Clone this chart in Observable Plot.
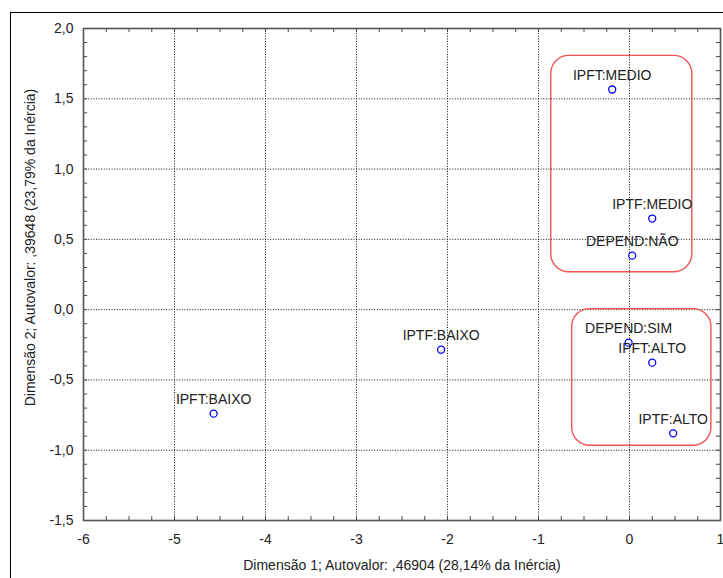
<!DOCTYPE html>
<html>
<head>
<meta charset="utf-8">
<script src="https://cdn.jsdelivr.net/npm/d3@7"></script>
<script src="https://cdn.jsdelivr.net/npm/@observablehq/plot@0.6"></script>
<style>
  html, body { margin: 0; padding: 0; background: #fff; }
  #wrap { position: relative; width: 723px; height: 578px; overflow: hidden; }
  #outer { position: absolute; left: 10px; top: 12px; width: 800px; height: 700px;
           border-left: 1.5px solid #000; border-top: 1.5px solid #000; pointer-events: none; }
  #chart { position: absolute; left: 0; top: 0; }
</style>
</head>
<body>
<div id="wrap"><div id="chart"></div><div id="outer"></div></div>
<script>
// Category labels and coordinates (Dimensão 1, Dimensão 2)
const labels = ["IPFT:MEDIO", "IPTF:MEDIO", "DEPEND:NÃO", "DEPEND:SIM", "IPFT:ALTO", "IPTF:ALTO", "IPTF:BAIXO", "IPFT:BAIXO"];
const dim1 = [-0.19, 0.25, 0.03, -0.01, 0.25, 0.48, -2.07, -4.57];
const dim2 = [1.566, 0.648, 0.384, -0.235, -0.377, -0.88, -0.285, -0.74];

// Highlight groups (rounded boxes), in data units
const groupX1 = [-0.86, -0.63];
const groupX2 = [0.69, 0.90];
const groupY1 = [0.266, -0.968];
const groupY2 = [1.805, 0.004];

// Axis ticks
const xTicks = [-6, -5, -4, -3, -2, -1, 0, 1];
const yTicks = [-1.5, -1.0, -0.5, 0.0, 0.5, 1.0, 1.5, 2.0];
const xGrid = [-5, -4, -3, -2, -1, 0];
const yGrid = [-1.0, -0.5, 0.0, 0.5, 1.0, 1.5];
const xMinor = d3.range(0, 29).map(i => -6 + i * 0.25);
const yMinor = d3.range(0, 36).map(i => -1.5 + i * 0.1);

const xTitle = "Dimensão 1; Autovalor: ,46904 (28,14% da Inércia)";
const yTitle = "Dimensão 2; Autovalor: ,39648 (23,79% da Inércia)";

const points = labels.map((l, i) => ({label: l, x: dim1[i], y: dim2[i]}));
const groups = groupX1.map((d, i) => ({x1: groupX1[i], x2: groupX2[i], y1: groupY1[i], y2: groupY2[i]}));

const gridStyle = {stroke: "#111", strokeDasharray: "1,1.6", strokeWidth: 1};
const tickLenY = 0.028, tickLenX = 0.045;

const chart = Plot.plot({
  width: 723,
  height: 578,
  marginLeft: 83,
  marginRight: 3,
  marginTop: 28,
  marginBottom: 58,
  style: {fontFamily: "'Liberation Sans', Arial, sans-serif", fontSize: "14px", color: "#222", background: "transparent"},
  x: {domain: [-6, 1]},
  y: {domain: [-1.5, 2]},
  marks: [
    Plot.ruleX(xGrid, {x: d => d, ...gridStyle}),
    Plot.ruleY(yGrid, {y: d => d, ...gridStyle}),
    Plot.rect(groups, {x1: "x1", x2: "x2", y1: "y1", y2: "y2", fill: "none", stroke: "#f05454", strokeWidth: 1.4, rx: 18}),
    Plot.ruleX(xMinor, {x: d => d, y1: -1.5, y2: -1.5 + tickLenY, stroke: "#444"}),
    Plot.ruleX(xMinor, {x: d => d, y1: 2, y2: 2 - tickLenY, stroke: "#444"}),
    Plot.ruleY(yMinor, {y: d => d, x1: -6, x2: -6 + tickLenX, stroke: "#444"}),
    Plot.ruleY(yMinor, {y: d => d, x1: 1, x2: 1 - tickLenX, stroke: "#444"}),
    Plot.frame({stroke: "#555", strokeWidth: 1.6}),
    Plot.axisX({ticks: xTicks, tickSize: 0, tickPadding: 14, tickFormat: d => String(d).replace("−", "-"), label: null, fontSize: 14}),
    Plot.axisY({ticks: yTicks, tickSize: 0, tickPadding: 10, tickFormat: d => d.toFixed(1).replace(".", ","), label: null, fontSize: 14}),
    Plot.text([xTitle], {frameAnchor: "bottom", dy: 49, text: d => d, fontSize: 14, fill: "#222"}),
    Plot.text([yTitle], {frameAnchor: "left", textAnchor: "middle", dx: -53, dy: -27, rotate: -90, text: d => d, fontSize: 14, fill: "#222"}),
    Plot.dot(points, {x: "x", y: "y", r: 3.5, stroke: "#0000ff", strokeWidth: 1.3, fill: "white"}),
    Plot.text(points, {x: "x", y: "y", text: "label", dy: -14, fontSize: 14, fill: "#222"})
  ]
});
document.getElementById("chart").appendChild(chart);
</script>
</body>
</html>
